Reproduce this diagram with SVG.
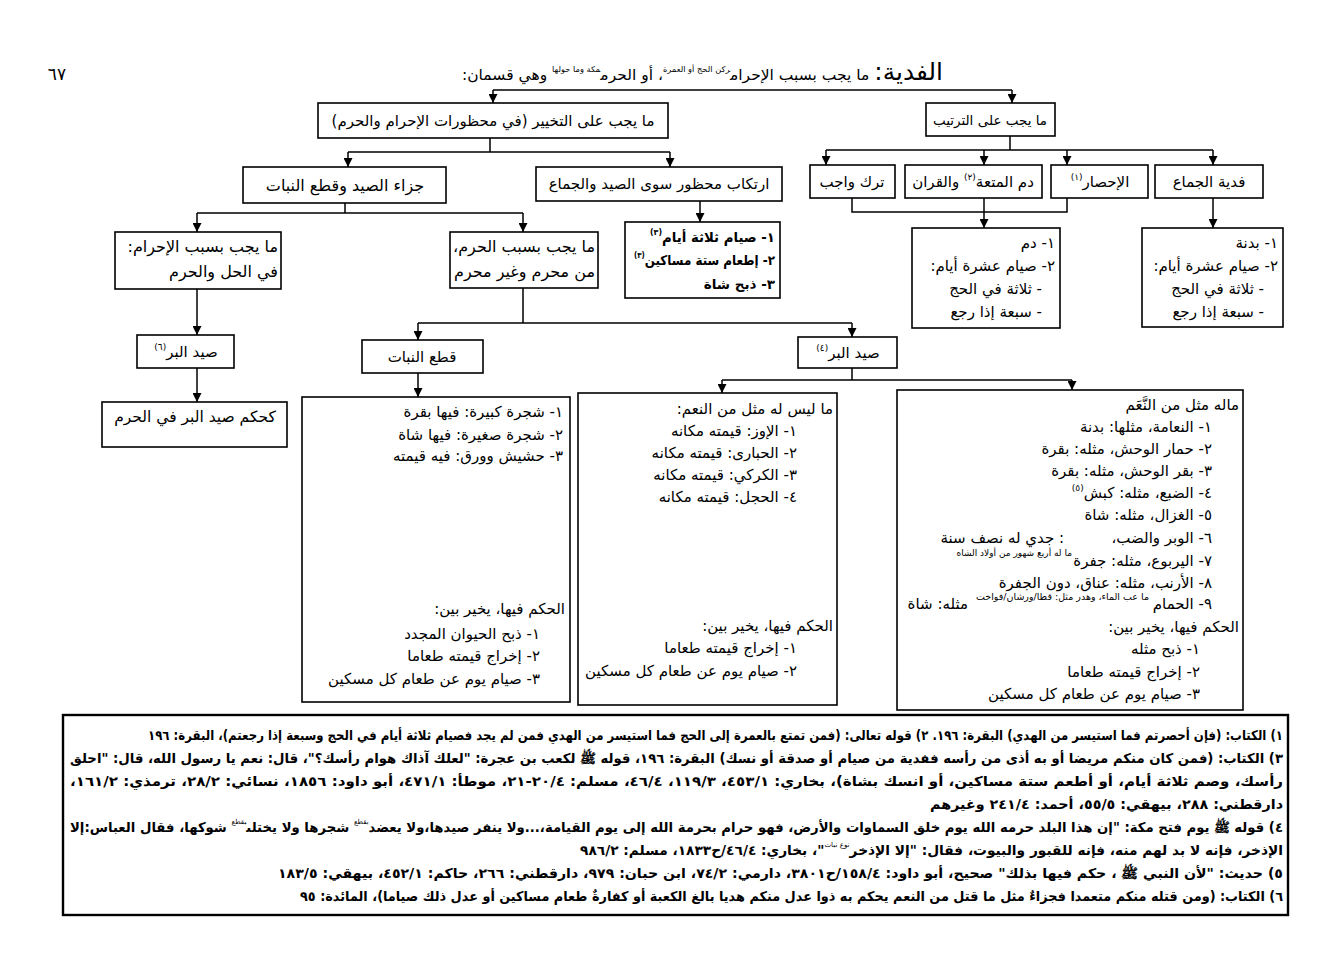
<svg xmlns="http://www.w3.org/2000/svg" width="1326" height="969" viewBox="0 0 1326 969">
<defs>
<marker id="ah" viewBox="0 0 10 10" refX="10" refY="5" markerWidth="9" markerHeight="9" markerUnits="userSpaceOnUse" orient="auto">
<path d="M0,0 L10,5 L0,10 z" fill="#000"/>
</marker>
<style>
text{font-family:"DejaVu Sans",sans-serif;font-size:15px;fill:#000;direction:rtl}
.box{fill:#fff;stroke:#000;stroke-width:1.6}
.fbox{fill:#fff;stroke:#000;stroke-width:2.4}
.ln{fill:none;stroke:#000;stroke-width:1.5}
.ar{fill:none;stroke:#000;stroke-width:1.5;marker-end:url(#ah)}
.c{text-anchor:middle}
.s{text-anchor:start}
.b{font-weight:bold;font-size:13.5px}
.l16{font-size:16px}
.tiny{font-size:9px}
.fn{font-size:13.5px;font-weight:bold;text-anchor:start}
</style>
</defs>
<rect width="1326" height="969" fill="#fff"/>

<text x="57" y="80" class="c" style="font-size:17px">٦٧</text>
<g id="title">
<text x="943" y="80" class="s" textLength="481" lengthAdjust="spacingAndGlyphs"><tspan font-size="24">الفدية:</tspan><tspan> ما يجب بسبب الإحرام</tspan><tspan font-size="8" baseline-shift="8">ركن الحج أو العمرة</tspan><tspan>، أو الحرم</tspan><tspan font-size="8" baseline-shift="8">مكة وما حولها</tspan><tspan> وهي قسمان:</tspan></text>
</g>

<g id="connectors">
<path class="ln" d="M493,90 H1012"/>
<path class="ar" d="M493,90 V103"/>
<path class="ar" d="M1012,90 V103"/>
<path class="ln" d="M490,138 V152 M348,152 H670"/>
<path class="ar" d="M348,152 V167"/>
<path class="ar" d="M670,152 V167"/>
<path class="ln" d="M1010,136 V150 M826,150 H1213"/>
<path class="ar" d="M826,150 V165"/>
<path class="ar" d="M984,150 V165"/>
<path class="ar" d="M1067,150 V165"/>
<path class="ar" d="M1213,150 V165"/>
<path class="ln" d="M345,203 V213 M197,213 H523"/>
<path class="ar" d="M197,213 V232"/>
<path class="ar" d="M523,213 V232"/>
<path class="ar" d="M700,201 V222"/>
<path class="ln" d="M852,198 V212 H1067 V198"/>
<path class="ar" d="M984,198 V228"/>
<path class="ar" d="M1213,198 V228"/>
<path class="ar" d="M197,289 V335"/>
<path class="ar" d="M197,368 V402"/>
<path class="ln" d="M523,288 V323 M418,323 H852"/>
<path class="ar" d="M418,323 V340"/>
<path class="ar" d="M852,323 V337"/>
<path class="ar" d="M418,373 V397"/>
<path class="ln" d="M852,368 V380 M722,380 H1072"/>
<path class="ar" d="M722,380 V393"/>
<path class="ar" d="M1072,380 V390"/>
</g>

<g id="n_takhyir"><rect class="box" x="318" y="103" width="350" height="35"/><text x="493" y="126" class="c">ما يجب على التخيير (في محظورات الإحرام والحرم)</text></g>
<g id="n_tartib"><rect class="box" x="926" y="103" width="129" height="33"/><text x="990" y="125" class="c" style="font-size:13.5px">ما يجب على الترتيب</text></g>

<g id="n_jaza"><rect class="box" x="243" y="167" width="203" height="36"/><text x="345" y="191" class="c" style="font-size:16px">جزاء الصيد وقطع النبات</text></g>
<g id="n_irtikab"><rect class="box" x="536" y="167" width="246" height="34"/><text x="659" y="189" class="c">ارتكاب محظور سوى الصيد والجماع</text></g>
<g id="n_tark"><rect class="box" x="810" y="165" width="85" height="33"/><text x="852" y="187" class="c">ترك واجب</text></g>
<g id="n_dam"><rect class="box" x="905" y="165" width="137" height="33"/><text x="973" y="187" class="c">دم المتعة<tspan font-size="9" baseline-shift="7">(٢)</tspan> والقران</text></g>
<g id="n_ihsar"><rect class="box" x="1051" y="165" width="97" height="33"/><text x="1100" y="187" class="c">الإحصار<tspan font-size="9" baseline-shift="7">(١)</tspan></text></g>
<g id="n_jima"><rect class="box" x="1155" y="165" width="108" height="33"/><text x="1209" y="187" class="c">فدية الجماع</text></g>

<g id="n_ihram"><rect class="box" x="115" y="232" width="166" height="57"/>
<text x="278" y="252" class="s l16">ما يجب بسبب الإحرام:</text>
<text x="278" y="277" class="s l16">في الحل والحرم</text></g>
<g id="n_haram"><rect class="box" x="450" y="232" width="148" height="56"/>
<text x="595" y="252" class="s l16">ما يجب بسبب الحرم،</text>
<text x="595" y="277" class="s l16">من محرم وغير محرم</text></g>
<g id="n_siyam3"><rect class="box" x="625" y="222" width="155" height="76"/>
<text x="775" y="242" class="s b" textLength="125" lengthAdjust="spacingAndGlyphs">١- صيام ثلاثة أيام<tspan font-size="8" baseline-shift="7">(٣)</tspan></text>
<text x="775" y="265" class="s b" textLength="141" lengthAdjust="spacingAndGlyphs">٢- إطعام ستة مساكين<tspan font-size="8" baseline-shift="7">(٣)</tspan></text>
<text x="775" y="289" class="s b">٣- ذبح شاة</text></g>

<g id="n_damlist"><rect class="box" x="912" y="228" width="148" height="100"/>
<text x="1055" y="248" class="s">١- دم</text>
<text x="1055" y="271" class="s">٢- صيام عشرة أيام:</text>
<text x="1042" y="294" class="s">- ثلاثة في الحج</text>
<text x="1042" y="317" class="s">- سبعة إذا رجع</text></g>
<g id="n_badana"><rect class="box" x="1142" y="228" width="141" height="99"/>
<text x="1278" y="248" class="s">١- بدنة</text>
<text x="1278" y="271" class="s">٢- صيام عشرة أيام:</text>
<text x="1264" y="294" class="s">- ثلاثة في الحج</text>
<text x="1264" y="317" class="s">- سبعة إذا رجع</text></g>

<g id="n_sayd6"><rect class="box" x="137" y="335" width="97" height="33"/><text x="186" y="357" class="c">صيد البر<tspan font-size="9" baseline-shift="7">(٦)</tspan></text></g>
<g id="n_kahukm"><rect class="box" x="102" y="402" width="185" height="45"/><text x="195" y="422" class="c" style="font-size:15.5px">كحكم صيد البر في الحرم</text></g>
<g id="n_qat"><rect class="box" x="362" y="340" width="121" height="33"/><text x="422" y="362" class="c">قطع النبات</text></g>
<g id="n_sayd4"><rect class="box" x="798" y="337" width="99" height="31"/><text x="848" y="358" class="c">صيد البر<tspan font-size="9" baseline-shift="7">(٤)</tspan></text></g>

<g id="n_nabat"><rect class="box" x="302" y="397" width="268" height="305"/>
<text x="563" y="417" class="s">١- شجرة كبيرة: فيها بقرة</text>
<text x="563" y="440" class="s">٢- شجرة صغيرة: فيها شاة</text>
<text x="563" y="461" class="s">٣- حشيش وورق: فيه قيمته</text>
<text x="565" y="614" class="s">الحكم فيها، يخير بين:</text>
<text x="540" y="639" class="s">١- ذبح الحيوان المجدد</text>
<text x="540" y="661" class="s">٢- إخراج قيمته طعاما</text>
<text x="540" y="684" class="s">٣- صيام يوم عن طعام كل مسكين</text></g>

<g id="n_laysa"><rect class="box" x="578" y="393" width="259" height="312"/>
<text x="833" y="414" class="s">ما ليس له مثل من النعم:</text>
<text x="797" y="436" class="s">١- الإوز: قيمته مكانه</text>
<text x="797" y="458" class="s">٢- الحبارى: قيمته مكانه</text>
<text x="797" y="480" class="s">٣- الكركي: قيمته مكانه</text>
<text x="797" y="502" class="s">٤- الحجل: قيمته مكانه</text>
<text x="833" y="631" class="s">الحكم فيها، يخير بين:</text>
<text x="797" y="653" class="s">١- إخراج قيمته طعاما</text>
<text x="797" y="676" class="s">٢- صيام يوم عن طعام كل مسكين</text></g>

<g id="n_mithl"><rect class="box" x="897" y="390" width="346" height="320"/>
<text x="1239" y="410" class="s">ماله مثل من النَّعَم</text>
<text x="1212" y="432" class="s">١- النعامة، مثلها: بدنة</text>
<text x="1212" y="454" class="s">٢- حمار الوحش، مثله: بقرة</text>
<text x="1212" y="476" class="s">٣- بقر الوحش، مثله: بقرة</text>
<text x="1212" y="498" class="s">٤- الضبع، مثله: كبش<tspan font-size="9" baseline-shift="7">(٥)</tspan></text>
<text x="1212" y="520" class="s">٥- الغزال، مثله: شاة</text>
<text x="1212" y="543" class="s">٦- الوبر والضب،</text>
<text x="1064" y="543" class="s">: جدي له نصف سنة</text>
<text x="1212" y="566" class="s">٧- اليربوع، مثله: جفرة</text>
<text x="1072" y="556" class="s tiny">ما له أربع شهور من أولاد الشاه</text>
<text x="1212" y="588" class="s">٨- الأرنب، مثله: عناق، دون الجفرة</text>
<text x="1212" y="609" class="s">٩- الحمام</text>
<text x="1149" y="600" class="s" style="font-size:9.5px">ما عب الماء، وهدر مثل: قطا/ورشان/فواخت</text>
<text x="968" y="609" class="s">مثله: شاة</text>
<text x="1239" y="632" class="s">الحكم فيها، يخير بين:</text>
<text x="1200" y="654" class="s">١- ذبح مثله</text>
<text x="1200" y="677" class="s">٢- إخراج قيمته طعاما</text>
<text x="1200" y="699" class="s">٣- صيام يوم عن طعام كل مسكين</text></g>

<g id="n_footnotes"><rect class="fbox" x="63" y="715" width="1225" height="200"/>
<text x="1283" y="740" class="fn" textLength="1135" lengthAdjust="spacingAndGlyphs">١) الكتاب: (فإن أحصرتم فما استيسر من الهدي) البقرة: ١٩٦. ٢) قوله تعالى: (فمن تمتع بالعمرة إلى الحج فما استيسر من الهدي فمن لم يجد فصيام ثلاثة أيام في الحج وسبعة إذا رجعتم)، البقرة: ١٩٦</text>
<text x="1283" y="763" class="fn" textLength="1213" lengthAdjust="spacingAndGlyphs">٣) الكتاب: (فمن كان منكم مريضا أو به أذى من رأسه ففدية من صيام أو صدقة أو نسك) البقرة: ١٩٦، قوله ﷺ لكعب بن عجرة: "لعلك آذاك هوام رأسك؟"، قال: نعم يا رسول الله، قال: "احلق</text>
<text x="1283" y="786" class="fn" textLength="1213" lengthAdjust="spacingAndGlyphs">رأسك، وصم ثلاثة أيام، أو أطعم ستة مساكين، أو انسك بشاة)، بخاري: ٤٥٣/١، ١١٩/٣، ٤٦/٤، مسلم: ٢٠/٤-٢١، موطأ: ٤٧١/١، أبو داود: ١٨٥٦، نسائي: ٢٨/٢، ترمذي: ١٦١/٢،</text>
<text x="1283" y="809" class="fn" textLength="353" lengthAdjust="spacingAndGlyphs">دارقطني: ٢٨٨، بيهقي: ٥٥/٥، أحمد: ٢٤١/٤ وغيرهم</text>
<text x="1283" y="832" class="fn" textLength="1213" lengthAdjust="spacingAndGlyphs">٤) قوله ﷺ يوم فتح مكة: "إن هذا البلد حرمه الله يوم خلق السماوات والأرض، فهو حرام بحرمة الله إلى يوم القيامة،...ولا ينفر صيدها،ولا يعضد<tspan font-size="7" font-weight="normal" baseline-shift="8">بقطع</tspan> شجرها ولا يختلى<tspan font-size="7" font-weight="normal" baseline-shift="8">بقطع</tspan> شوكها، فقال العباس:إلا</text>
<text x="1283" y="855" class="fn" textLength="703" lengthAdjust="spacingAndGlyphs">الإذخر، فإنه لا بد لهم منه، فإنه للقبور والبيوت، فقال: "إلا الإذخر<tspan font-size="7" font-weight="normal" baseline-shift="8">نوع نبات</tspan>"، بخاري: ٤٦/٤/ح١٨٣٣، مسلم: ٩٨٦/٢</text>
<text x="1283" y="878" class="fn" textLength="1005" lengthAdjust="spacingAndGlyphs">٥) حديث: "لأن النبي ﷺ ، حكم فيها بذلك" صحيح، أبو داود: ١٥٨/٤/ح٣٨٠١، دارمي: ٧٤/٢، ابن حبان: ٩٧٩، دارقطني: ٢٦٦، حاكم: ٤٥٢/١، بيهقي: ١٨٣/٥</text>
<text x="1283" y="901" class="fn" textLength="983" lengthAdjust="spacingAndGlyphs">٦) الكتاب: (ومن قتله منكم متعمدا فجزاءٌ مثل ما قتل من النعم يحكم به ذوا عدل منكم هديا بالغ الكعبة أو كفارةٌ طعام مساكين أو عدل ذلك صياما)، المائدة: ٩٥</text>
</g>
</svg>
